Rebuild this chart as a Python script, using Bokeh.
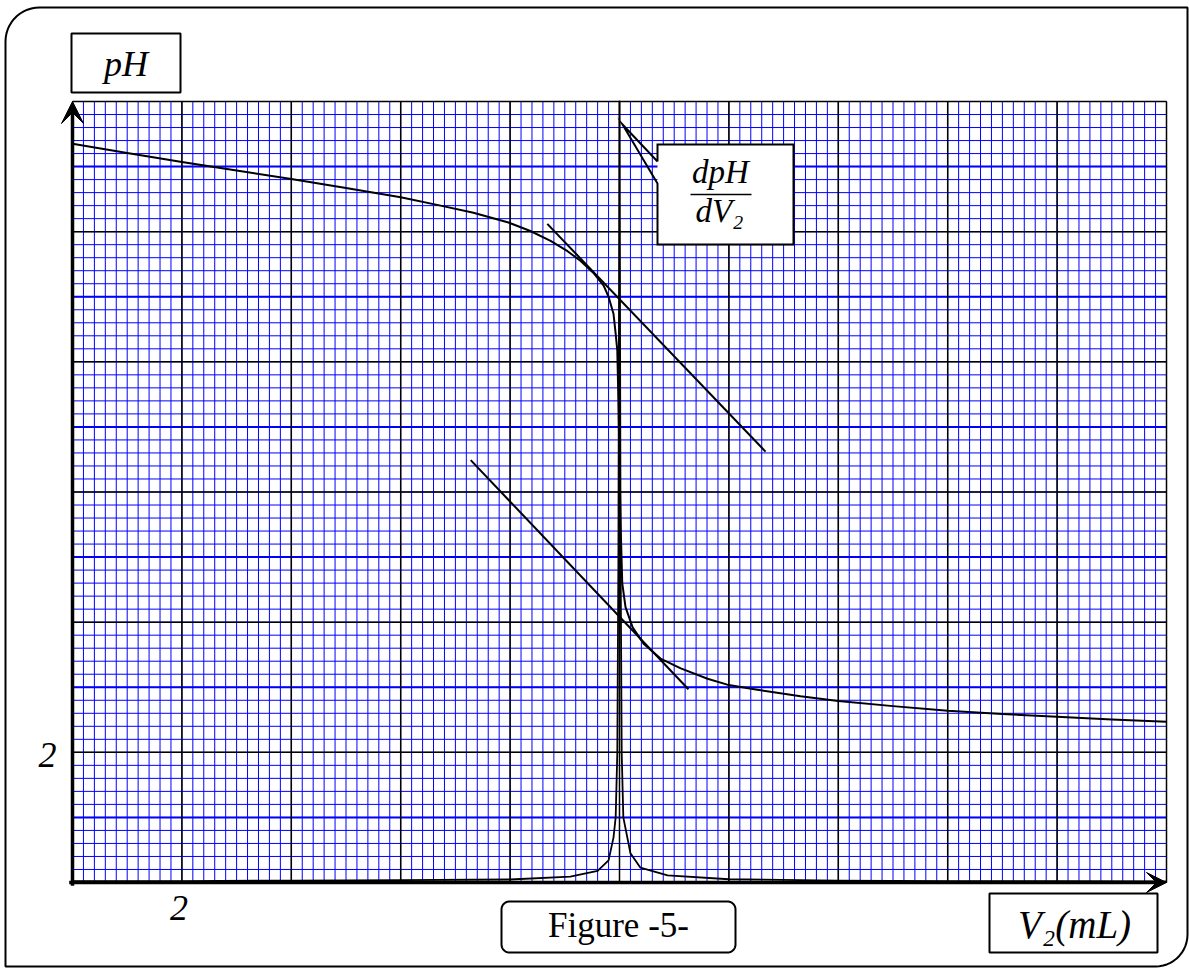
import numpy as np
from bokeh.plotting import figure
from bokeh.models import Range1d, Arrow, VeeHead
from bokeh.core.properties import value
from bokeh.embed import file_html
from bokeh.resources import INLINE

# ---------------- data ----------------
# titration curve pH = f(V2)
v_ph = [0, 1, 2, 3, 4, 5, 6, 6.73, 7.33, 7.97, 8.37, 8.74, 9.05, 9.29, 9.52, 9.71,
        9.80, 9.89, 9.93, 9.96, 9.98, 10.0, 10.02, 10.05, 10.11, 10.24, 10.44, 10.75,
        11.12, 11.61, 11.97, 12.52, 13.31, 14, 15, 16, 17, 18, 19, 20]
ph = [11.35, 11.21, 11.07, 10.94, 10.81, 10.67, 10.53, 10.40, 10.29, 10.14, 10.01, 9.86,
      9.70, 9.55, 9.37, 9.17, 9.0, 8.74, 8.43, 8.17, 7.4, 6.5, 5.5, 4.6, 4.23, 3.92,
      3.67, 3.44, 3.29, 3.13, 3.04, 2.96, 2.86, 2.79, 2.71, 2.64, 2.59, 2.545, 2.505, 2.47]

# derivative curve |dpH/dV2| (in plot units)
v_d = [0, 2, 4, 6, 8, 9.1, 9.6, 9.8, 9.89, 9.93, 9.96, 9.98, 10.0, 10.02, 10.04,
       10.07, 10.2, 10.38, 10.88, 12, 14, 16, 18, 20]
dph = [0.02, 0.02, 0.03, 0.035, 0.046, 0.09, 0.18, 0.34, 0.69, 1.0, 2.0, 5.0, 12.0,
       5.0, 2.0, 1.0, 0.45, 0.23, 0.11, 0.05, 0.03, 0.02, 0.02, 0.015]

# the two parallel tangents
tan_up_v = [8.68, 12.67]
tan_up_ph = [10.12, 6.62]
tan_lo_v = [7.28, 11.26]
tan_lo_ph = [6.49, 2.97]

# axes / graph paper
v_min, v_max = 0, 20
ph_min, ph_max = 0, 12
x_tick_labels = {2: "2"}
y_tick_labels = {2: "2"}

# ---------------- layout ----------------
W, H = 1189, 969
SX = 54.7           # px per mL
SY = 781 / 12       # px per pH unit
X0 = v_min - 72 / SX
X1 = X0 + W / SX
Y1 = ph_max + 101 / SY
Y0 = Y1 - H / SY
BASE = 0.34         # baseline correction (fraction of font size)


def DX(px):
    return X0 + px / SX


def DY(py):
    return Y1 - py / SY


def TY(py, fs):
    # data y for a text whose alphabetic baseline should sit at pixel row py
    return DY(py - BASE * fs)


def rounded(l, t, r, b, rtl=0, rtr=0, rbr=0, rbl=0, n=14):
    xs, ys = [], []

    def arc(cx, cy, rad, a0, a1):
        for a in np.linspace(np.radians(a0), np.radians(a1), n):
            xs.append(cx + rad * np.cos(a))
            ys.append(cy - rad * np.sin(a))

    arc(l + rtl, t + rtl, rtl, 180, 90)
    arc(r - rtr, t + rtr, rtr, 90, 0)
    arc(r - rbr, b - rbr, rbr, 0, -90)
    arc(l + rbl, b - rbl, rbl, -90, -180)
    return [DX(x) for x in xs], [DY(y) for y in ys]


p = figure(width=W, height=H, x_range=Range1d(X0, X1), y_range=Range1d(Y0, Y1),
           x_axis_location=None, y_axis_location=None, toolbar_location=None,
           output_backend="svg", min_border=0, outline_line_color=None,
           background_fill_color="white", border_fill_color="white")
p.xgrid.visible = False
p.ygrid.visible = False

# ---------------- graph paper ----------------
minor_x = np.round(np.arange(v_min, v_max + 1e-9, 0.2), 4)
minor_y = np.round(np.arange(ph_min, ph_max + 1e-9, 0.2), 4)
p.segment(x0=minor_x, y0=ph_min, x1=minor_x, y1=ph_max, line_color="#0000FF", line_width=1)
p.segment(x0=v_min, y0=minor_y, x1=v_max, y1=minor_y, line_color="#0000FF", line_width=1)
mid_y = np.arange(ph_min + 1, ph_max, 2)
p.segment(x0=v_min, y0=mid_y, x1=v_max, y1=mid_y, line_color="#0000FF", line_width=2)
major_x = np.arange(v_min + 2, v_max + 1e-9, 2)
major_y = np.arange(ph_min + 2, ph_max + 1e-9, 2)
p.segment(x0=major_x, y0=ph_min, x1=major_x, y1=ph_max, line_color="black", line_width=1.5)
p.segment(x0=v_min, y0=major_y, x1=v_max, y1=major_y, line_color="black", line_width=1.5)

# ---------------- curves ----------------
p.line(v_d, dph, line_color="black", line_width=1.8, line_join="round")
p.line(v_ph, ph, line_color="black", line_width=2, line_join="round")
p.line(tan_up_v, tan_up_ph, line_color="black", line_width=2)
p.line(tan_lo_v, tan_lo_ph, line_color="black", line_width=2)

# ---------------- axes with arrows ----------------
p.add_layout(Arrow(end=VeeHead(size=20, fill_color="black", line_color="black", line_width=1),
                   x_start=v_min - 0.06, y_start=ph_min, x_end=v_max, y_end=ph_min,
                   line_width=3.5, line_color="black"))
p.add_layout(Arrow(end=VeeHead(size=22, fill_color="black", line_color="black", line_width=1),
                   x_start=v_min, y_start=ph_min - 0.05, x_end=v_min, y_end=ph_max,
                   line_width=3.5, line_color="black"))

serif = value("Liberation Serif")
tx = list(x_tick_labels.keys())
p.text(x=[t - 3 / SX for t in tx], y=[ph_min - (38 - BASE * 36) / SY] * len(tx),
       text=[x_tick_labels[t] for t in tx], text_font=serif, text_font_style="italic",
       text_font_size="36px", text_align="center", text_baseline="alphabetic")
ty = list(y_tick_labels.keys())
p.text(x=[v_min - 25 / SX] * len(ty), y=[t - (15 - BASE * 36) / SY for t in ty],
       text=[y_tick_labels[t] for t in ty], text_font=serif, text_font_style="italic",
       text_font_size="36px", text_align="center", text_baseline="alphabetic")

# ---------------- frames and labels ----------------
fx, fy = rounded(5, 7, 1187, 966, rtl=34, rbr=32)
p.patch(fx, fy, fill_color=None, line_color="black", line_width=2)

bx, by = rounded(71, 33, 180, 92)
p.patch(bx, by, fill_color="white", line_color="black", line_width=2)
p.text(x=[DX(125.5)], y=[TY(76, 36)], text=["pH"], text_font=serif, text_font_style="italic",
       text_font_size="36px", text_align="center", text_baseline="alphabetic")

bx, by = rounded(989, 893, 1157, 952)
p.patch(bx, by, fill_color="white", line_color="black", line_width=2)
p.text(x=[DX(1074)], y=[TY(937, 39)], text=["V₂(mL)"], text_font=serif, text_font_style="italic",
       text_font_size="39px", text_align="center", text_baseline="alphabetic")

bx, by = rounded(501, 901, 735, 952, 8, 8, 8, 8)
p.patch(bx, by, fill_color="white", line_color="black", line_width=2)
p.text(x=[DX(618)], y=[TY(937, 35)], text=["Figure -5-"], text_font=serif,
       text_font_size="35px", text_align="center", text_baseline="alphabetic")

# callout for the derivative curve
p.quad(left=DX(657), right=DX(793), top=DY(144), bottom=DY(244), fill_color="white", line_color=None)
cx = [DX(v) for v in (657, 657, 793, 793, 657, 657, 622, 657)]
cy = [DY(v) for v in (161, 144, 144, 244, 244, 183, 124, 161)]
p.line(cx, cy, line_color="black", line_width=2, line_join="miter")
p.text(x=[DX(720), DX(719)], y=[TY(183, 33), TY(222, 33)], text=["dpH", "dV₂"], text_font=serif,
       text_font_style="italic", text_font_size="33px", text_align="center", text_baseline="alphabetic")
p.line([DX(690), DX(751)], [DY(194), DY(194)], line_color="black", line_width=1.5)

open("out.html", "w").write(file_html(p, INLINE))
